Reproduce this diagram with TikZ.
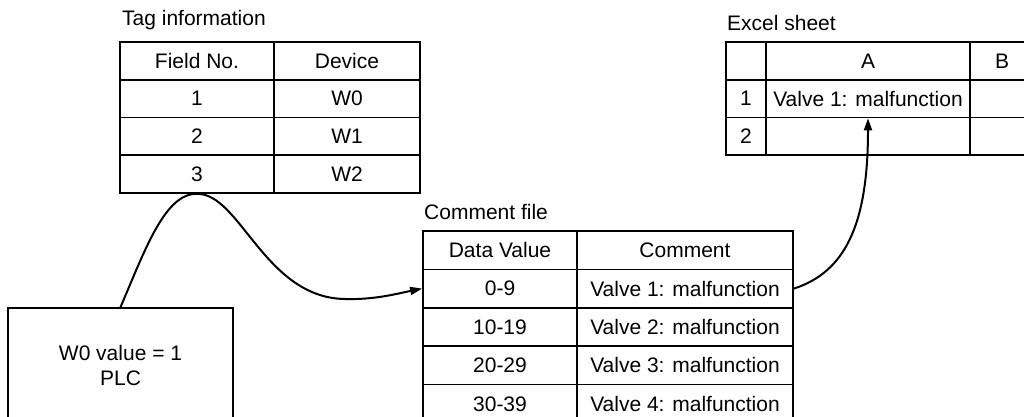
\documentclass[tikz,border=0pt]{standalone}
\usepackage{fontspec}
\setmainfont{Liberation Sans}
\usetikzlibrary{arrows.meta}
\newcommand\diafont{\fontsize{21}{25}\selectfont}
\begin{document}
\begin{tikzpicture}[x=1pt,y=-1pt,
  cell/.style={draw, line width=1.7pt, inner sep=0pt, minimum height=37.75pt, font=\diafont},
  ccell/.style={cell, minimum height=38.4pt},
  title/.style={anchor=base west, inner sep=0pt, font=\diafont},
  conn/.style={line width=2pt, -{Triangle[length=12pt,width=8pt]}}]
\useasboundingbox (0,0) rectangle (1024,417);
\clip (0,0) rectangle (1024,417);

% Tag information table
\node[title] (tagtitle) at (122,26) {Tag information};
\node[cell, minimum width=154pt] (t01) at (197,60.875) {Field No.};
\node[cell, minimum width=146pt] (t02) at (347,60.875) {Device};
\node[cell, minimum width=154pt] (t11) at (197,98.625) {1};
\node[cell, minimum width=146pt] (t12) at (347,98.625) {W0};
\node[cell, minimum width=154pt] (t21) at (197,136.375) {2};
\node[cell, minimum width=146pt] (t22) at (347,136.375) {W1};
\node[cell, minimum width=154pt] (t31) at (197,174.125) {3};
\node[cell, minimum width=146pt] (t32) at (347,174.125) {W2};

% Comment file table
\node[title] (cmtitle) at (424,219) {Comment file};
\node[ccell, minimum width=154pt] (c01) at (500,250.2) {Data Value};
\node[ccell, minimum width=216pt] (c02) at (685,250.2) {Comment};
\node[ccell, minimum width=154pt] (c11) at (500,288.6) {0-9};
\node[ccell, minimum width=216pt] (c12) at (685,288.6) {Valve 1: malfunction};
\node[ccell, minimum width=154pt] (c21) at (500,327) {10-19};
\node[ccell, minimum width=216pt] (c22) at (685,327) {Valve 2: malfunction};
\node[ccell, minimum width=154pt] (c31) at (500,365.4) {20-29};
\node[ccell, minimum width=216pt] (c32) at (685,365.4) {Valve 3: malfunction};
\node[ccell, minimum width=154pt] (c41) at (500,403.8) {30-39};
\node[ccell, minimum width=216pt] (c42) at (685,403.8) {Valve 4: malfunction};

% Excel sheet
\node[title] (xltitle) at (727,31) {Excel sheet};
\node[cell, minimum width=40pt] (x00) at (746,60.875) {};
\node[cell, minimum width=204pt] (x0a) at (868,60.875) {A};
\node[cell, minimum width=64pt] (x0b) at (1002,60.875) {B};
\node[cell, minimum width=40pt] (x10) at (746,98.625) {1};
\node[cell, minimum width=204pt] (x1a) at (868,98.625) {Valve 1: malfunction};
\node[cell, minimum width=64pt] (x1b) at (1002,98.625) {};
\node[cell, minimum width=40pt] (x20) at (746,136.375) {2};
\node[cell, minimum width=204pt] (x2a) at (868,136.375) {};
\node[cell, minimum width=64pt] (x2b) at (1002,136.375) {};

% PLC
\node[draw, line width=1.7pt, minimum width=225pt, minimum height=114pt,
      align=center, font=\diafont] (plc) at (120.5,365) {W0 value = 1\\PLC};

% connectors
\draw[conn] (plc.north) .. controls (145,250) and (165,193) .. (t31.south)
  .. controls (240,193) and (265,298) .. (345,299)
  .. controls (375,300) and (400,293) .. (c11.west);
\draw[conn] (c12.east) .. controls (845,272) and (868,225) .. (x1a.south);
\end{tikzpicture}
\end{document}
